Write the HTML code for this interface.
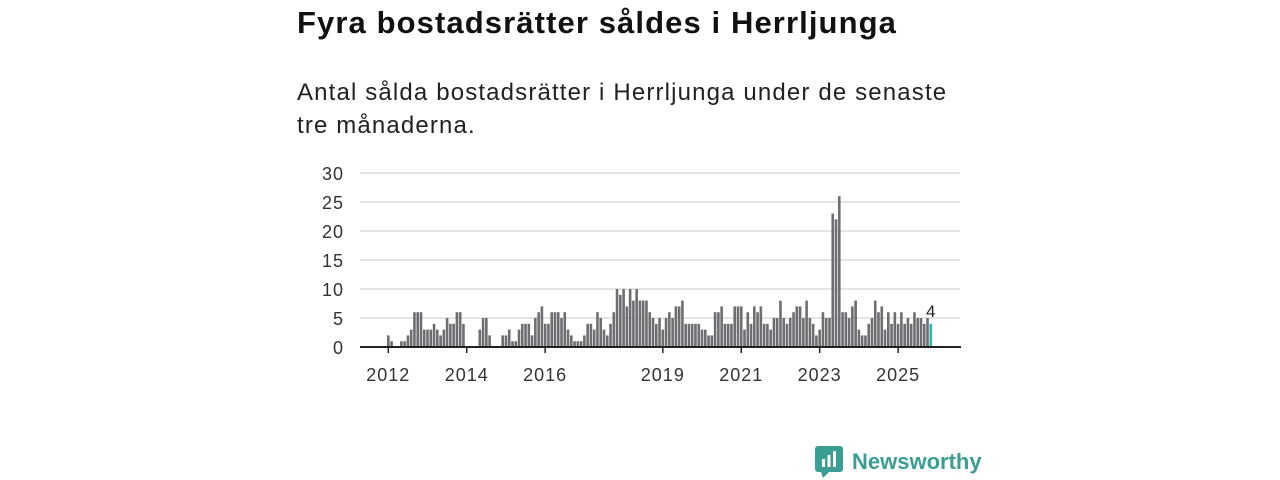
<!DOCTYPE html>
<html><head><meta charset="utf-8"><style>
body{margin:0;width:1280px;height:480px;background:#fff;font-family:"Liberation Sans","DejaVu Sans",sans-serif;position:relative;overflow:hidden}
h1{position:absolute;left:297px;top:5px;margin:0;font-size:31px;letter-spacing:1.1px;font-weight:bold;color:#111;white-space:nowrap}
.sub{position:absolute;left:297px;top:76px;margin:0;font-size:24px;letter-spacing:1.15px;line-height:33px;color:#222;width:670px}
</style></head><body>
<h1>Fyra bostadsrätter såldes i Herrljunga</h1>
<p class="sub">Antal sålda bostadsrätter i Herrljunga under de senaste<br>tre månaderna.</p>
<svg id="chart" width="1280" height="480" style="position:absolute;left:0;top:0"></svg>
<div style="position:absolute;left:815px;top:446px;display:flex;align-items:center">
<svg width="28" height="32"><rect x="0" y="0" width="28" height="26" rx="3" fill="#3a9e93"/><polygon points="6,26 14,26 8,32" fill="#3a9e93"/><rect x="7" y="13" width="3" height="8" fill="#fff"/><rect x="12.5" y="9" width="3" height="12" fill="#fff"/><rect x="18" y="5" width="3" height="16" fill="#fff"/></svg>
<span style="margin-left:9px;font-size:22px;font-weight:bold;color:#3a9e93">Newsworthy</span></div>
<script>
const values=[2,1,0,0,1,1,2,3,6,6,6,3, 3,3,4,3,2,3,5,4,4,6,6,4, 0,0,0,0,
3,5,5,2,0,0,0,2,2,3,1,1,3,4,4,4,2,5,6,7,4,4,6,6,6,5,6,3,
2,1,1,1,2,4,4,3,6,5,3,2,4,6,10,9,10,7,10,8,10,8,8,8,6,5,4,5,3,
5,6,5,7,7,8,4,4,4,4,4,3,3,2,2,6,6,7,4,4,4,7,7,7,3,6,4,7,6,
7,4,4,3,5,5,8,5,4,5,6,7,7,5,8,5,4,2,3,6,5,5,23,22,26,
6,6,5,7,8,3,2,2,4,5,8,6,7,3,6,4,6,4,6,4,5,4,6,5,5,4,5,4];
const yTicks=[0,5,10,15,20,25,30];
const xTickYears=[2012,2014,2016,2019,2021,2023,2025];
const startYear=2012;
const svg=document.getElementById('chart');const NS='http://www.w3.org/2000/svg';
const x0=388.3,step=3.268,yBase=347,yScale=5.8;
const xs=i=>x0+i*step;const ys=v=>yBase-v*yScale;
function mk(t,a){const e=document.createElementNS(NS,t);for(const k in a)e.setAttribute(k,a[k]);svg.appendChild(e);return e;}
yTicks.forEach(v=>{
 if(v>0){const g=mk('line',{x1:360,x2:960,y1:ys(v),y2:ys(v),stroke:'#dcdcdc','stroke-width':1.5});
 
 }
 const t=mk('text',{x:344,y:ys(v)+7,'text-anchor':'end','font-size':18,'letter-spacing':1,fill:'#333','font-family':'Liberation Sans, sans-serif'});t.textContent=v;
 
 
});
values.forEach((v,i)=>{
 const last=i===values.length-1;
 const r=mk('rect',{x:xs(i)-1.3,y:ys(v),width:2.6,height:v*yScale,fill:last?'#2bb3a8':'#6e6e72'});
 
 
});
const li=values.length-1;
const lab=mk('text',{x:xs(li),y:ys(values[li])-7,'text-anchor':'middle','font-size':17,fill:'#222','font-family':'Liberation Sans, sans-serif'});lab.textContent=values[li];


const ax=mk('line',{x1:360,x2:961,y1:yBase,y2:yBase,stroke:'#222','stroke-width':2});


xTickYears.forEach(y=>{
 const x=xs((y-startYear)*12);
 const tk=mk('line',{x1:x,x2:x,y1:yBase,y2:yBase+6,stroke:'#222','stroke-width':1.5});
 
 
 const t=mk('text',{x:x,y:381,'text-anchor':'middle','font-size':18,'letter-spacing':1,fill:'#333','font-family':'Liberation Sans, sans-serif'});t.textContent=y;
 
 
});
</script>
</body></html>
